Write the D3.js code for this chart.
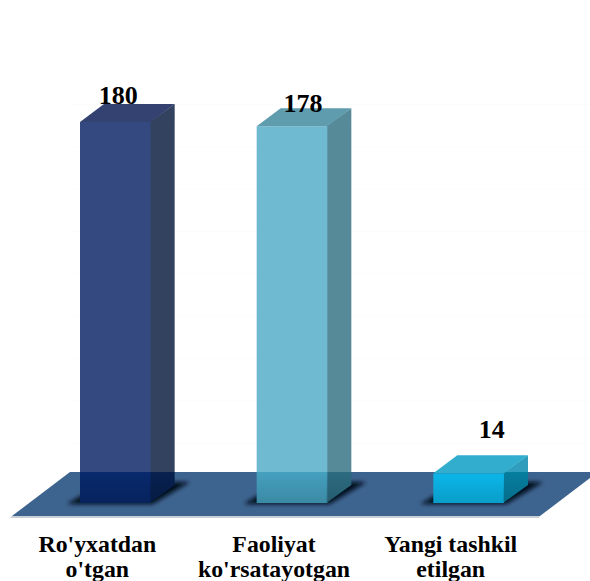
<!DOCTYPE html>
<html>
<head>
<meta charset="utf-8">
<script src="https://cdn.jsdelivr.net/npm/d3@7"></script>
<style>
    html, body { margin: 0; padding: 0; background: #fff; }
    svg { display: block; }
    text { font-family: "Liberation Serif", serif; font-weight: bold; fill: #000; }
</style>
</head>
<body>
<div id="chart"></div>
<script>
var categories = ["Ro'yxatdan o'tgan", "Faoliyat ko'rsatayotgan", "Yangi tashkil etilgan"];
var values = [180, 178, 14];
var gridValues = [0, 20, 40, 60, 80, 100, 120, 140, 160, 180];

var width = 590,
    height = 581;

// colours per bar: front, side, top, then front/side where the bar meets the floor
var frontColors = ["#34497f", "#6fbad1", "#0bb7ea"];
var sideColors = ["#33435f", "#578a98", "#2f9dbb"];
var topColors = ["#334270", "#5f9cae", "#32adcd"];
var lowFrontColors = ["#08296c", "#45a0bf", "#0bb7ea"];
var lowSideColors = ["#07204f", "#2c6b80", "#067e9f"];
var labelShift = [[3, -18], [11, -14], [23, -35]];

var depthX = 24,
    depthY = -18,
    floorBack = 472,
    floorFront = 516;

var x = d3.scaleBand().domain(categories).range([27, 557]).paddingInner(0.6).paddingOuter(0.3);
var y = d3.scaleLinear().domain([0, 180]).range([503, 122]);

var svg = d3.select("#chart").append("svg")
    .attr("width", width)
    .attr("height", height);

var defs = svg.append("defs");
defs.append("filter").attr("id", "blur")
    .attr("x", "-30%").attr("y", "-50%").attr("width", "160%").attr("height", "200%")
    .append("feGaussianBlur").attr("stdDeviation", 2.2);
defs.append("clipPath").attr("id", "aboveFloor")
    .append("rect").attr("x", 0).attr("y", 0).attr("width", width).attr("height", floorBack);
defs.append("clipPath").attr("id", "onFloor")
    .append("rect").attr("x", 0).attr("y", floorBack).attr("width", width).attr("height", height - floorBack);

// soft darkening toward the foot of each bar
var shade = defs.append("linearGradient").attr("id", "shade")
    .attr("gradientUnits", "userSpaceOnUse")
    .attr("x1", 0).attr("y1", floorBack)
    .attr("x2", 0).attr("y2", y(0));
shade.append("stop").attr("offset", "0%").attr("stop-color", "#000").attr("stop-opacity", 0);
shade.append("stop").attr("offset", "100%").attr("stop-color", "#000").attr("stop-opacity", 0.14);

function poly(pts) {
    return d3.line()(pts) + "Z";
}

// faint back wall lines, barely there in the picture
svg.selectAll(".grid")
    .data(gridValues.slice(1))
    .enter().append("path")
    .attr("class", "grid")
    .attr("d", function (d) {
        var gy = y(d) + depthY;
        return poly([[70, gy], [590, gy], [590, gy + 1], [70, gy + 1]]);
    })
    .attr("fill", "#fcfcfc");

// floor
svg.append("path")
    .attr("d", poly([[70, floorBack], [598, floorBack], [540, floorFront], [12, floorFront]]))
    .attr("fill", "#3d648f");
svg.append("path")
    .attr("d", poly([[12, floorFront], [540, floorFront], [539, floorFront + 2], [10, floorFront + 2]]))
    .attr("fill", "#c9ced6");

var bars = svg.selectAll(".bar")
    .data(categories)
    .enter().append("g")
    .attr("class", "bar");

// shadow under each bar
bars.append("path")
    .attr("d", function (d) {
        var x0 = x(d), x1 = x0 + x.bandwidth(), b = y(0);
        return poly([[x0 - 13, b + 1], [x1 + 2, b + 1], [x1 + 39, b - 21], [x0 + 25, b - 21]]);
    })
    .attr("fill", "#050d1a")
    .attr("filter", "url(#blur)");

function drawFaces(sel, front, side) {
    sel.append("path")
        .attr("d", function (d) {
            var x1 = x(d) + x.bandwidth(), t = y(values[categories.indexOf(d)]), b = y(0);
            return poly([[x1 - 1, t], [x1 + depthX, t + depthY], [x1 + depthX, b + depthY], [x1 - 1, b]]);
        })
        .attr("fill", function (d, i) { return side[i]; });
    sel.append("rect")
        .attr("x", function (d) { return x(d); })
        .attr("y", function (d, i) { return y(values[i]); })
        .attr("width", x.bandwidth())
        .attr("height", function (d, i) { return y(0) - y(values[i]); })
        .attr("fill", function (d, i) { return front[i]; });
}

drawFaces(bars.append("g").attr("clip-path", "url(#aboveFloor)"), frontColors, sideColors);
drawFaces(bars.append("g").attr("clip-path", "url(#onFloor)"), lowFrontColors, lowSideColors);

var shadeFill = ["url(#shade)", "url(#shade)", "url(#shade)"];
drawFaces(bars.append("g").attr("clip-path", "url(#onFloor)"), shadeFill, shadeFill);

bars.append("path")
    .attr("d", function (d, i) {
        var x0 = x(d), x1 = x0 + x.bandwidth(), t = y(values[i]);
        return poly([[x0, t], [x1, t], [x1 + depthX, t + depthY], [x0 + depthX, t + depthY]]);
    })
    .attr("fill", function (d, i) { return topColors[i]; });

// value labels
svg.selectAll(".value")
    .data(values)
    .enter().append("text")
    .attr("class", "value")
    .attr("text-anchor", "middle")
    .attr("font-size", 26)
    .attr("x", function (d, i) { return x(categories[i]) + x.bandwidth() / 2 + labelShift[i][0]; })
    .attr("y", function (d, i) { return y(d) + labelShift[i][1]; })
    .text(function (d) { return d; });

// category labels, two lines each
var splitAt = [1, 1, 2];
svg.selectAll(".cat")
    .data(categories)
    .enter().append("text")
    .attr("class", "cat")
    .attr("text-anchor", "middle")
    .attr("font-size", 23.8)
    .each(function (d, i) {
        var words = d.split(" "),
            cx = x(d) + x.bandwidth() / 2 - 18,
            lines = [words.slice(0, splitAt[i]).join(" "), words.slice(splitAt[i]).join(" ")];
        d3.select(this).selectAll("tspan")
            .data(lines)
            .enter().append("tspan")
            .attr("x", cx)
            .attr("y", function (l, j) { return 552 + j * 25; })
            .text(function (l) { return l; });
    });
</script>
</body>
</html>
